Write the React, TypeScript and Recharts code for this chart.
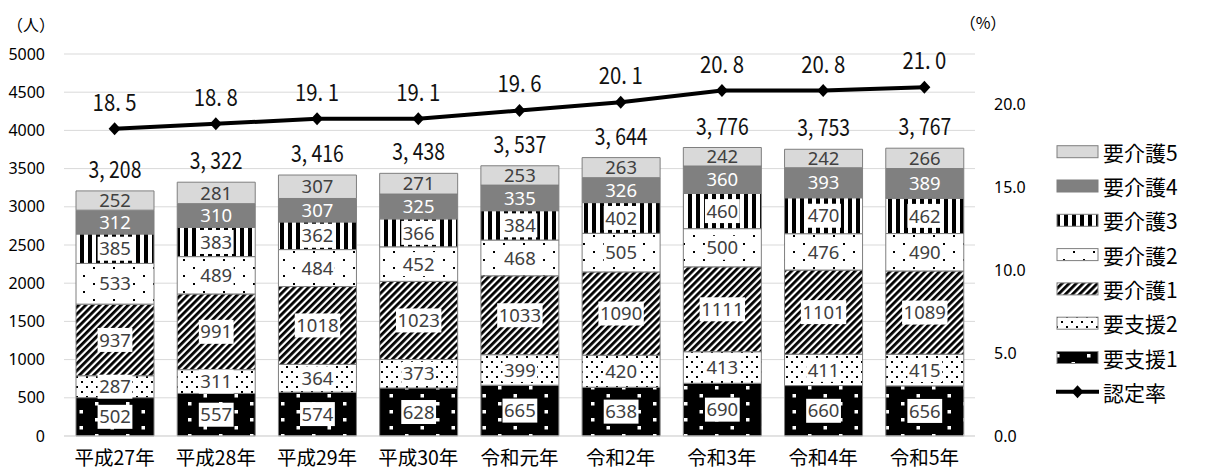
import React from 'react';
import { ComposedChart, Bar, Line, XAxis, YAxis, CartesianGrid, LabelList } from 'recharts';

const categories = ['平成27年', '平成28年', '平成29年', '平成30年', '令和元年', '令和2年', '令和3年', '令和4年', '令和5年'];
const shien1 = [502, 557, 574, 628, 665, 638, 690, 660, 656];
const shien2 = [287, 311, 364, 373, 399, 420, 413, 411, 415];
const kaigo1 = [937, 991, 1018, 1023, 1033, 1090, 1111, 1101, 1089];
const kaigo2 = [533, 489, 484, 452, 468, 505, 500, 476, 490];
const kaigo3 = [385, 383, 362, 366, 384, 402, 460, 470, 462];
const kaigo4 = [312, 310, 307, 325, 335, 326, 360, 393, 389];
const kaigo5 = [252, 281, 307, 271, 253, 263, 242, 242, 266];
const totals = [3208, 3322, 3416, 3438, 3537, 3644, 3776, 3753, 3767];
const rates = [18.5, 18.8, 19.1, 19.1, 19.6, 20.1, 20.8, 20.8, 21.0];
const leftTicks = [0, 500, 1000, 1500, 2000, 2500, 3000, 3500, 4000, 4500, 5000];
const rightTicks = [0, 5, 10, 15, 20];

const seriesNames = { s1: '要支援1', s2: '要支援2', k1: '要介護1', k2: '要介護2', k3: '要介護3', k4: '要介護4', k5: '要介護5' };

const W = 1205;
const H = 474;
const CJK = "'Noto Sans CJK JP', 'Noto Sans', sans-serif";
const NUM = "'Noto Sans', sans-serif";

const getBox = (p: any) => {
  const vb = p.viewBox || {};
  return {
    x: vb.x ?? p.x ?? 0,
    y: vb.y ?? p.y ?? 0,
    width: vb.width ?? p.width ?? 0,
    height: vb.height ?? p.height ?? 0,
  };
};

const makeSegLabel = (withBox: boolean, color: string) => (props: any) => {
  const { x, y, width, height } = getBox(props);
  const s = String(props.value);
  const cx = x + width / 2;
  const cy = y + height / 2;
  const tw = s.length * 10.6 + 3;
  return (
    <g>
      {withBox && <rect x={cx - tw / 2} y={cy - 12} width={tw} height={24} fill="#fff" />}
      <text x={cx} y={cy} dy="0.36em" textAnchor="middle" fontFamily={NUM} fontSize={18.5} fill={color}>
        {s}
      </text>
    </g>
  );
};

const NarrowText = ({ x, y, text }: { x: number; y: number; text: string }) => (
  <text
    x={x}
    y={y}
    textAnchor="middle"
    dominantBaseline="central"
    fontFamily={CJK}
    fontSize={23.5}
    textLength={text.length * 8.8}
    lengthAdjust="spacingAndGlyphs"
    fill="#111"
  >
    {text}
  </text>
);

const fmtTotal = (v: number) => `${Math.floor(v / 1000)}, ${String(v % 1000).padStart(3, '0')}`;
const fmtRate = (v: number) => v.toFixed(1).replace('.', '. ');

const TotalLabel = (props: any) => {
  const { x, y, width } = getBox(props);
  return <NarrowText x={x + width / 2} y={y - 23} text={fmtTotal(Number(props.value))} />;
};

const RateLabel = (props: any) => {
  const { x, y } = getBox(props);
  return <NarrowText x={x} y={y - 28} text={fmtRate(Number(props.value))} />;
};

const Diamond = (props: any) => {
  const { cx, cy, index } = props;
  if (cx == null || cy == null) return <g key={index} />;
  return <polygon key={index} points={`${cx},${cy - 6.5} ${cx + 6},${cy} ${cx},${cy + 6.5} ${cx - 6},${cy}`} fill="#000" />;
};

const Patterns = () => (
  <defs>
    <pattern id="pK3" patternUnits="userSpaceOnUse" width="8" height="8">
      <rect width="8" height="8" fill="#fff" />
      <rect width="4" height="8" fill="#000" />
    </pattern>
    <pattern id="pK2" patternUnits="userSpaceOnUse" width="20" height="16">
      <rect width="20" height="16" fill="#fff" />
      <rect x="3" y="3" width="2" height="2" fill="#000" />
      <rect x="13" y="11" width="2" height="2" fill="#000" />
    </pattern>
    <pattern id="pK1" patternUnits="userSpaceOnUse" width="5" height="5" patternTransform="rotate(45)">
      <rect width="5" height="5" fill="#fff" />
      <rect width="2.8" height="5" fill="#000" />
    </pattern>
    <pattern id="pS2" patternUnits="userSpaceOnUse" width="10" height="10">
      <rect width="10" height="10" fill="#fff" />
      <rect x="1" y="1" width="2" height="2" fill="#000" />
      <rect x="6" y="6" width="2" height="2" fill="#000" />
    </pattern>
    <pattern id="pS1" patternUnits="userSpaceOnUse" width="31" height="16">
      <rect width="31" height="16" fill="#000" />
      <rect x="2" y="2" width="3.5" height="3.5" fill="#fff" />
      <rect x="17.5" y="10" width="3.5" height="3.5" fill="#fff" />
    </pattern>
  </defs>
);

const legendItems = [
  { key: 'k5', fill: '#d9d9d9' },
  { key: 'k4', fill: '#808080' },
  { key: 'k3', fill: 'url(#pK3)' },
  { key: 'k2', fill: 'url(#pK2)' },
  { key: 'k1', fill: 'url(#pK1)' },
  { key: 's2', fill: 'url(#pS2)' },
  { key: 's1', fill: 'url(#pS1)' },
];

export default function App() {
  const data = categories.map((c, i) => ({
    name: c,
    s1: shien1[i],
    s2: shien2[i],
    k1: kaigo1[i],
    k2: kaigo2[i],
    k3: kaigo3[i],
    k4: kaigo4[i],
    k5: kaigo5[i],
    total: totals[i],
    rate: rates[i],
  }));
  const stroke = '#7f7f7f';
  return (
    <div style={{ position: 'absolute', left: 0, top: 0, width: W, height: H, background: '#fff' }}>
      <ComposedChart width={W} height={H} data={data} margin={{ top: 54, right: 170, bottom: 8, left: 0 }} barSize={78}>
        <Patterns />
        <CartesianGrid vertical={false} stroke="#d9d9d9" />
        <XAxis
          dataKey="name"
          height={30}
          interval={0}
          tickLine={false}
          axisLine={{ stroke: '#d9d9d9' }}
          tickMargin={9}
          tick={{ fontSize: 19.5, fontFamily: CJK, fill: '#000' }}
        />
        <YAxis
          width={64}
          domain={[0, 5000]}
          ticks={leftTicks}
          tickLine={false}
          axisLine={false}
          tickSize={0}
          tickMargin={19}
          tick={{ fontSize: 16, fontFamily: NUM, fill: '#000' }}
        />
        <YAxis
          yAxisId="right"
          orientation="right"
          width={60}
          domain={[0, 23]}
          ticks={rightTicks}
          tickFormatter={(v: number) => v.toFixed(1)}
          tickLine={false}
          axisLine={false}
          tickSize={0}
          tickMargin={19}
          tick={{ fontSize: 16, fontFamily: NUM, fill: '#000', textAnchor: 'start' }}
        />
        <Bar dataKey="s1" name={seriesNames.s1} stackId="a" fill="url(#pS1)" stroke={stroke} strokeWidth={1} isAnimationActive={false}>
          <LabelList dataKey="s1" content={makeSegLabel(true, '#404040')} />
        </Bar>
        <Bar dataKey="s2" name={seriesNames.s2} stackId="a" fill="url(#pS2)" stroke={stroke} strokeWidth={1} isAnimationActive={false}>
          <LabelList dataKey="s2" content={makeSegLabel(true, '#404040')} />
        </Bar>
        <Bar dataKey="k1" name={seriesNames.k1} stackId="a" fill="url(#pK1)" stroke={stroke} strokeWidth={1} isAnimationActive={false}>
          <LabelList dataKey="k1" content={makeSegLabel(true, '#404040')} />
        </Bar>
        <Bar dataKey="k2" name={seriesNames.k2} stackId="a" fill="url(#pK2)" stroke={stroke} strokeWidth={1} isAnimationActive={false}>
          <LabelList dataKey="k2" content={makeSegLabel(true, '#404040')} />
        </Bar>
        <Bar dataKey="k3" name={seriesNames.k3} stackId="a" fill="url(#pK3)" stroke={stroke} strokeWidth={1} isAnimationActive={false}>
          <LabelList dataKey="k3" content={makeSegLabel(true, '#404040')} />
        </Bar>
        <Bar dataKey="k4" name={seriesNames.k4} stackId="a" fill="#808080" stroke={stroke} strokeWidth={1} isAnimationActive={false}>
          <LabelList dataKey="k4" content={makeSegLabel(false, '#ffffff')} />
        </Bar>
        <Bar dataKey="k5" name={seriesNames.k5} stackId="a" fill="#d9d9d9" stroke={stroke} strokeWidth={1} isAnimationActive={false}>
          <LabelList dataKey="k5" content={makeSegLabel(false, '#404040')} />
          <LabelList dataKey="total" content={TotalLabel} />
        </Bar>
        <Line
          yAxisId="right"
          dataKey="rate"
          name="認定率"
          stroke="#000"
          strokeWidth={4}
          dot={Diamond}
          activeDot={false}
          isAnimationActive={false}
        >
          <LabelList dataKey="rate" content={RateLabel} />
        </Line>
      </ComposedChart>
      <svg width={W} height={H} style={{ position: 'absolute', left: 0, top: 0, pointerEvents: 'none' }}>
        <text x={31} y={24} textAnchor="middle" dominantBaseline="central" fontFamily={CJK} fontSize={16} fill="#000">（人）</text>
        <text x={983} y={22} textAnchor="middle" dominantBaseline="central" fontFamily={CJK} fontSize={16} fill="#000">（%）</text>
        {legendItems.map((it, i) => {
          const cy = 151.7 + 34.3 * i;
          return (
            <g key={it.key}>
              <rect x={1057} y={cy - 6} width={41} height={12} fill={it.fill} stroke={stroke} strokeWidth={1} />
              <text x={1103} y={cy} dominantBaseline="central" fontFamily={CJK} fontSize={21} fill="#000">
                {(seriesNames as any)[it.key]}
              </text>
            </g>
          );
        })}
        <g>
          <line x1={1056} x2={1099} y1={151.7 + 34.3 * 7} y2={151.7 + 34.3 * 7} stroke="#000" strokeWidth={4} />
          <polygon
            points={`${1077.5},${151.7 + 34.3 * 7 - 6.5} ${1083.5},${151.7 + 34.3 * 7} ${1077.5},${151.7 + 34.3 * 7 + 6.5} ${1071.5},${151.7 + 34.3 * 7}`}
            fill="#000"
          />
          <text x={1103} y={151.7 + 34.3 * 7} dominantBaseline="central" fontFamily={CJK} fontSize={21} fill="#000">認定率</text>
        </g>
      </svg>
    </div>
  );
}
